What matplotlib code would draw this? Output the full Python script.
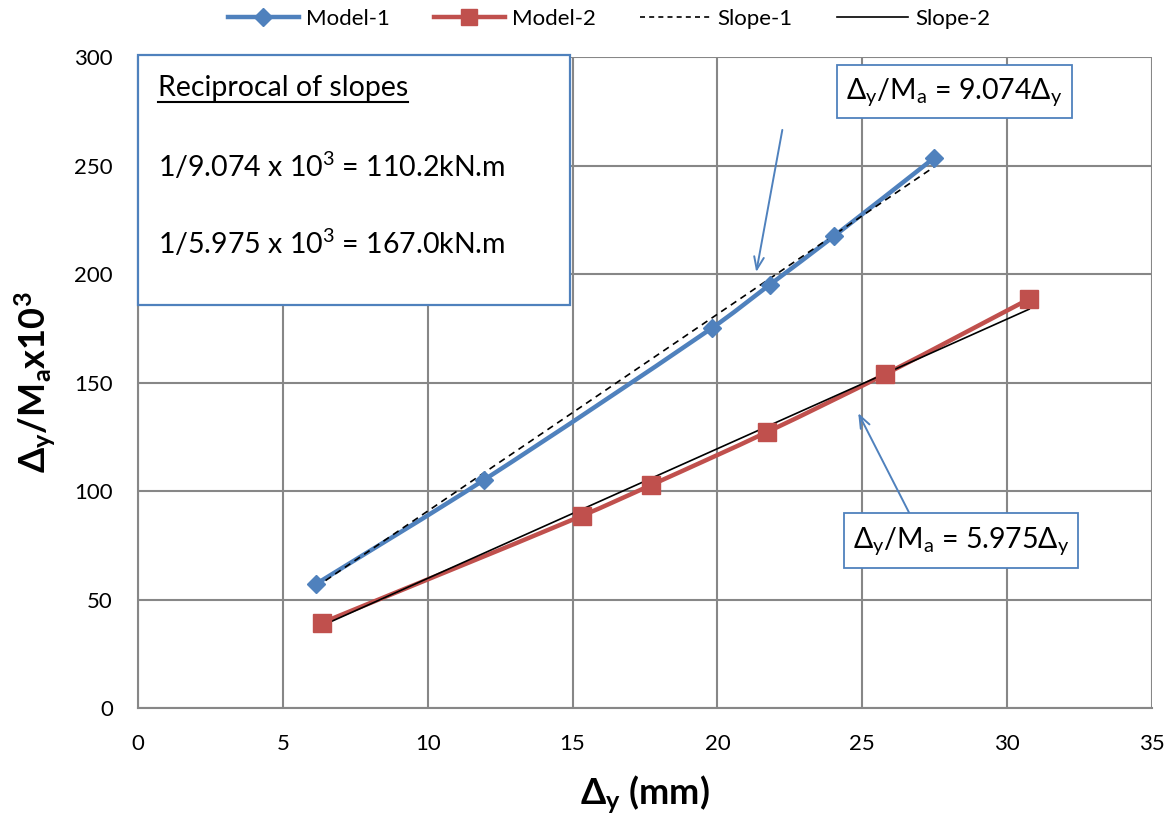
import matplotlib
matplotlib.use("Agg")
import matplotlib.pyplot as plt
from matplotlib.path import Path
from matplotlib.patches import PathPatch, Rectangle
from matplotlib.lines import Line2D
import numpy as np

plt.rcParams['font.family'] = ['Lato', 'DejaVu Sans']
plt.rcParams['mathtext.fontset'] = 'custom'
plt.rcParams['mathtext.rm'] = 'Lato'
plt.rcParams['mathtext.it'] = 'Lato:italic'
plt.rcParams['mathtext.bf'] = 'Lato:bold'

# Measured data
model1_x = [6.14, 11.93, 19.8, 21.8, 24.03, 27.48]
model1_y = [57.1, 105.0, 175.0, 195.0, 217.5, 253.5]
model2_x = [6.34, 15.31, 17.72, 21.72, 25.8, 30.76]
model2_y = [39.2, 88.5, 102.8, 127.2, 153.9, 188.5]
slope1 = 9.074
slope2 = 5.975
x_ticks = [0, 5, 10, 15, 20, 25, 30, 35]
y_ticks = [0, 50, 100, 150, 200, 250, 300]

BLUE = '#4F81BD'
RED = '#C0504D'
GRID = '#878787'
W, H = 1176, 821

fig = plt.figure(figsize=(W / 100, H / 100), dpi=100)
ax = fig.add_axes([138 / W, 1 - 708 / H, (1152 - 138) / W, (708 - 57) / H])
ax.set_xlim(0, 35)
ax.set_ylim(0, 300)
ax.set_xticks(x_ticks)
ax.set_yticks(y_ticks)
ax.grid(True, color=GRID, linewidth=1.5)
ax.set_axisbelow(True)
for s in ['top', 'right']:
    ax.spines[s].set_visible(False)
for s in ['left', 'bottom']:
    ax.spines[s].set_color(GRID)
    ax.spines[s].set_linewidth(1.5)
ax.tick_params(length=0, labelsize=16)
ax.tick_params(axis='y', pad=18)
ax.tick_params(axis='x', pad=19)


def smooth_path(xs, ys):
    """Cubic Bezier path through the points with length-weighted tangents."""
    p = np.column_stack([xs, ys]).astype(float)
    n = len(p)
    seg = np.linalg.norm(np.diff(p, axis=0), axis=1)
    tang = np.zeros_like(p)
    for i in range(n):
        a = p[i - 1] if i > 0 else p[i]
        b = p[i + 1] if i < n - 1 else p[i]
        la = seg[i - 1] if i > 0 else 0.0
        lb = seg[i] if i < n - 1 else 0.0
        tang[i] = (b - a) / (la + lb)
    verts = [p[0]]
    codes = [Path.MOVETO]
    for i in range(n - 1):
        L = seg[i]
        verts += [p[i] + tang[i] * L / 3.0, p[i + 1] - tang[i + 1] * L / 3.0, p[i + 1]]
        codes += [Path.CURVE4] * 3
    return Path(verts, codes)


# Linear fits through the origin
s1x = np.array([model1_x[0], model1_x[-1]])
s2x = np.array([model2_x[0], model2_x[-1]])
ax.plot(s1x, slope1 * s1x, color='black', linestyle=(0, (4, 3)), linewidth=1.2, zorder=4)
ax.plot(s2x, slope2 * s2x, color='black', linestyle='-', linewidth=1.2, zorder=4)

ax.add_patch(PathPatch(smooth_path(model1_x, model1_y), facecolor='none',
                       edgecolor=BLUE, linewidth=3.2, zorder=3))
ax.add_patch(PathPatch(smooth_path(model2_x, model2_y), facecolor='none',
                       edgecolor=RED, linewidth=3.2, zorder=3))
ax.plot(model1_x, model1_y, linestyle='none', marker='D', markersize=9,
        color=BLUE, zorder=5)
ax.plot(model2_x, model2_y, linestyle='none', marker='s', markersize=12.5,
        color=RED, zorder=5)

ax.set_xlabel(r'$\mathbf{\Delta_y}$ (mm)', fontsize=26, fontweight='bold', labelpad=14)
ax.set_ylabel(r'$\mathbf{\Delta_y/M_a x10^3}$', fontsize=26, labelpad=12)

handles = [
    Line2D([], [], color=BLUE, linewidth=3.2, marker='D', markersize=9),
    Line2D([], [], color=RED, linewidth=3.2, marker='s', markersize=12),
    Line2D([], [], color='black', linestyle=(0, (3, 2.5)), linewidth=1.2),
    Line2D([], [], color='black', linestyle='-', linewidth=1.2),
]
fig.legend(handles, ['Model-1', 'Model-2', 'Slope-1', 'Slope-2'],
           loc='center', bbox_to_anchor=(609 / W, 1 - 19 / H), ncol=4, frameon=False,
           fontsize=16, handlelength=3.2, columnspacing=2.0, handletextpad=0.3,
           borderaxespad=0, borderpad=0)

# Summary box
fig.patches.append(Rectangle((138 / W, 1 - 305 / H), (570 - 138) / W, (305 - 55) / H,
                             transform=fig.transFigure, facecolor='white',
                             edgecolor=BLUE, linewidth=1.6, zorder=6))
t_head = fig.text(158 / W, 1 - 88 / H, 'Reciprocal of slopes', fontsize=20.5,
                  va='center', ha='left', zorder=7)
fig.text(158 / W, 1 - 166 / H, r'1/9.074 x 10$^3$ = 110.2kN.m', fontsize=20.5,
         va='center', ha='left', zorder=7)
fig.text(158 / W, 1 - 243 / H, r'1/5.975 x 10$^3$ = 167.0kN.m', fontsize=20.5,
         va='center', ha='left', zorder=7)
fig.canvas.draw()
bb = t_head.get_window_extent(fig.canvas.get_renderer())
uy = (bb.y0 - 1) / fig.bbox.height
fig.add_artist(Line2D([bb.x0 / fig.bbox.width, bb.x1 / fig.bbox.width], [uy, uy],
                      transform=fig.transFigure, color='black', linewidth=1.5, zorder=7))

# Slope callouts
arrow_kw = dict(arrowstyle='->,head_length=0.9,head_width=0.35', color=BLUE,
                linewidth=1.4, shrinkA=0, shrinkB=0)
ax.annotate('', xy=(21.34, 200.9), xytext=(22.24, 266.4), arrowprops=arrow_kw, zorder=6)
ax.annotate('', xy=(24.86, 135.9), xytext=(26.62, 89.9), arrowprops=arrow_kw, zorder=6)

for (x0, y0, x1, y1, txt) in [
        (837, 65, 1072, 118, r'$\mathregular{\Delta_y/M_a}$ = 9.074$\mathregular{\Delta_y}$'),
        (844, 513, 1078, 568, r'$\mathregular{\Delta_y/M_a}$ = 5.975$\mathregular{\Delta_y}$')]:
    fig.patches.append(Rectangle((x0 / W, 1 - y1 / H), (x1 - x0) / W, (y1 - y0) / H,
                                 transform=fig.transFigure, facecolor='white',
                                 edgecolor=BLUE, linewidth=1.3, zorder=6))
    fig.text((x0 + x1) / 2 / W, 1 - (y0 + y1) / 2 / H, txt, fontsize=20.5,
             ha='center', va='center', zorder=7)

fig.savefig('out.png', dpi=100)
